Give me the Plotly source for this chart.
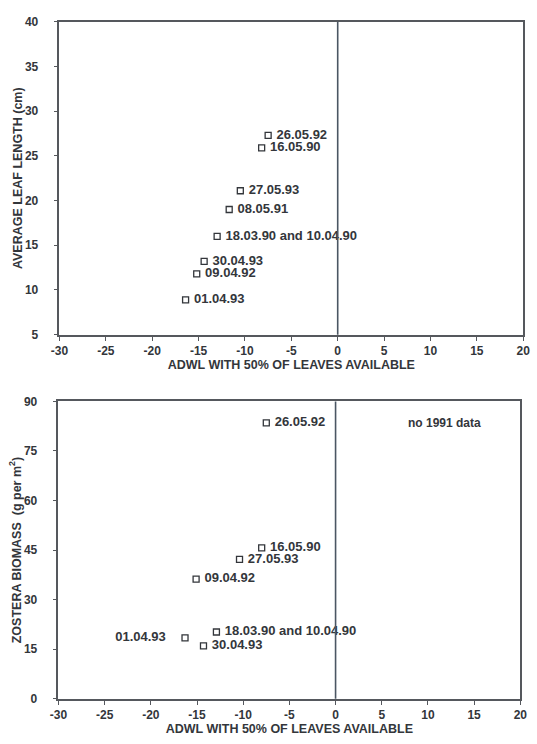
import plotly.graph_objects as go

# Sampling dates and their ADWL (days with 50% of leaves available)
leaf_dates = ["26.05.92", "16.05.90", "27.05.93", "08.05.91",
              "18.03.90 and 10.04.90", "30.04.93", "09.04.92", "01.04.93"]
leaf_adwl = [-7.5, -8.2, -10.5, -11.7, -13.0, -14.4, -15.2, -16.4]
leaf_length = [27.3, 25.9, 21.1, 19.0, 16.0, 13.2, 11.8, 8.9]

biomass_dates = ["26.05.92", "16.05.90", "27.05.93", "09.04.92",
                 "18.03.90 and 10.04.90", "30.04.93", "01.04.93"]
biomass_adwl = [-7.5, -8.0, -10.4, -15.1, -12.9, -14.3, -16.3]
biomass_value = [83.5, 45.7, 42.2, 36.2, 20.2, 16.0, 18.4]
biomass_label_left = [False, False, False, False, False, False, True]

x_ticks = [-30, -25, -20, -15, -10, -5, 0, 5, 10, 15, 20]
leaf_ticks = [5, 10, 15, 20, 25, 30, 35, 40]
biomass_ticks = [0, 15, 30, 45, 60, 75, 90]

INK = "#33363b"
LINE = "#55585d"
FONT = "Liberation Sans, Arial, sans-serif"
NB = "\u00a0"

fig = go.Figure()

marker = dict(symbol="square-open", size=6, color=INK, line=dict(width=1.3, color=INK))
textfont = dict(family=FONT, size=13, color=INK, weight="bold")

fig.add_trace(go.Scatter(
    x=leaf_adwl, y=leaf_length, text=[NB + d for d in leaf_dates],
    mode="markers+text", textposition="middle right", marker=marker, textfont=textfont,
    xaxis="x", yaxis="y", showlegend=False, cliponaxis=False))

fig.add_trace(go.Scatter(
    x=biomass_adwl, y=biomass_value,
    text=[d + NB * 4 if left else NB + d
          for d, left in zip(biomass_dates, biomass_label_left)],
    mode="markers+text",
    textposition=["middle left" if left else "middle right" for left in biomass_label_left],
    marker=marker, textfont=textfont,
    xaxis="x2", yaxis="y2", showlegend=False, cliponaxis=False))

tickfont = dict(family=FONT, size=12, color=INK, weight="bold")
titlefont = dict(family=FONT, size=12.5, color=INK, weight="bold")

axis_common = dict(showgrid=False, zeroline=False, showline=True, linecolor=LINE,
                   linewidth=1.6, mirror=True, ticks="outside", ticklen=4,
                   tickcolor=LINE, tickwidth=1.2, tickfont=tickfont)


def hyphen_labels(vals):
    return [str(v).replace("\u2212", "-") for v in vals]


fig.update_layout(
    width=537, height=744, margin=dict(l=0, r=0, t=0, b=0),
    paper_bgcolor="white", plot_bgcolor="white",
    xaxis=dict(domain=[52 / 537, 530 / 537], range=[-30, 20], tickvals=x_ticks,
               ticktext=hyphen_labels(x_ticks), anchor="y",
               title=dict(text="ADWL WITH 50% OF LEAVES AVAILABLE", font=titlefont, standoff=0),
               **axis_common),
    yaxis=dict(domain=[1 - 334 / 744, 1 - 15 / 744], range=[5, 40], tickvals=leaf_ticks,
               anchor="x", ticklabelstandoff=13,
               title=dict(text="AVERAGE LEAF LENGTH (cm)", font=titlefont, standoff=0),
               **axis_common),
    xaxis2=dict(domain=[51 / 537, 527 / 537], range=[-30, 20], tickvals=x_ticks,
                ticktext=hyphen_labels(x_ticks), anchor="y2",
                title=dict(text="ADWL WITH 50% OF LEAVES AVAILABLE", font=titlefont, standoff=0),
                **axis_common),
    yaxis2=dict(domain=[1 - 705 / 744, 1 - 402 / 744], range=[0, 90], tickvals=biomass_ticks,
                anchor="x2", ticklabelstandoff=13,
                title=dict(text="ZOSTERA BIOMASS  (g per m<sup>2</sup>)", font=titlefont, standoff=0),
                **axis_common),
)

# Vertical reference line at ADWL = 0 in each panel
for xr, yr in (("x", "y"), ("x2", "y2")):
    fig.add_shape(type="line", xref=xr, yref=f"{yr} domain", x0=0, x1=0, y0=0, y1=1,
                  line=dict(color="#4b5663", width=1.6))

fig.add_annotation(x=11.8, y=83.5, xref="x2", yref="y2", text="no 1991 data",
                   showarrow=False, font=dict(family=FONT, size=12, color=INK, weight="bold"))

fig.write_html("out.html")
